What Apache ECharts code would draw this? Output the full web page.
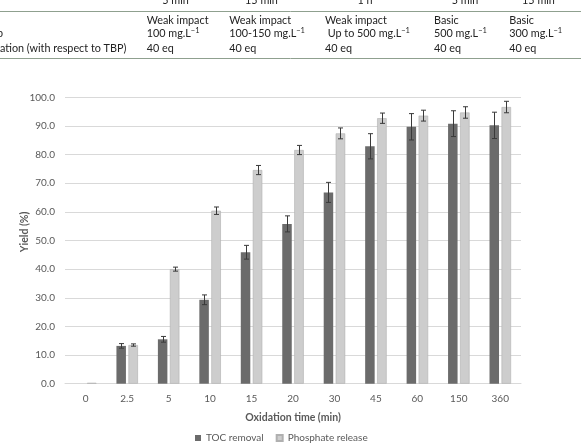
<!DOCTYPE html>
<html><head><meta charset="utf-8">
<script src="https://cdn.jsdelivr.net/npm/echarts@6/dist/echarts.min.js"></script>
<style>html,body{margin:0;padding:0;background:#fff}#c{width:581px;height:446px}</style>
</head><body><div id="c"></div>
<script>
const categories = ['0','2.5','5','10','15','20','30','45','60','150','360'];
const tocRemoval = [0, 13.2, 15.5, 29.3, 45.9, 55.8, 66.8, 82.9, 89.7, 90.8, 90.2];
const tocErr = [0, 0.8, 1.0, 1.7, 2.4, 2.8, 3.5, 4.4, 4.6, 4.5, 4.6];
const phosphateRelease = [0.3, 13.5, 40.0, 60.4, 74.6, 81.6, 87.4, 92.7, 93.6, 94.7, 96.6];
const phosErr = [0, 0.4, 0.7, 1.3, 1.6, 1.6, 1.9, 1.8, 1.9, 2.0, 2.0];
const yTicks = [0,10,20,30,40,50,60,70,80,90,100];
const seriesNames = ['TOC removal', 'Phosphate release'];
const tableTop = ['5 min', '15 min', '1 h', '5 min', '15 min'];
const tableRow1 = ['Weak impact', 'Weak impact', 'Weak impact', 'Basic', 'Basic'];
const tableRow2 = ['100', '100-150', ' Up to 500', '500', '300'];
const tableRow3 = ['40 eq', '40 eq', '40 eq', '40 eq', '40 eq'];
const tableLeft = ['p', 'ation (with respect to TBP)'];

const BW = 9.5, GAP = 2.5;
const font = 'Lato';
const tFont = 'Lato';
const TFS = 10.8;
const chart = echarts.init(document.getElementById('c'));

function errSeries(name, vals, errs, sign) {
  return {
    type: 'custom', name: name + ' err', silent: true, z: 5,
    data: vals.map((v, i) => [i, v, errs[i]]),
    renderItem: function (params, api) {
      const i = api.value(0), v = api.value(1), e = api.value(2);
      if (!e) return null;
      const off = sign * (BW + GAP) / 2;
      const top = api.coord([i, v + e]);
      const bot = api.coord([i, v - e]);
      const x = Math.round(top[0] + off) + 0.5;
      const st = { stroke: '#3a3a3a', lineWidth: 1 };
      return { type: 'group', children: [
        { type: 'line', shape: { x1: x, y1: top[1], x2: x, y2: bot[1] }, style: st },
        { type: 'line', shape: { x1: x - 2.5, y1: top[1], x2: x + 2.5, y2: top[1] }, style: st },
        { type: 'line', shape: { x1: x - 2.5, y1: bot[1], x2: x + 2.5, y2: bot[1] }, style: st }
      ]};
    }
  };
}

const tStyle = { fontFamily: tFont, fontSize: TFS, fill: '#222' };
const colX = [146.7, 229.3, 325, 434, 509.3];
const topX = [175.5, 261.5, 365, 465, 538.5];
const graphics = [
  { type: 'line', shape: { x1: 0, y1: 11.5, x2: 581, y2: 11.5 }, style: { stroke: '#8fa08f', lineWidth: 1 } },
  { type: 'line', shape: { x1: 0, y1: 58.5, x2: 581, y2: 58.5 }, style: { stroke: '#8fa08f', lineWidth: 1 } },
  { type: 'text', x: 25, y: 232, rotation: Math.PI / 2, style: { text: 'Yield (%)', fontFamily: font, fontSize: 10.5, fontWeight: 'bold', fill: '#595959', align: 'center', verticalAlign: 'middle' } }
];
tableTop.forEach((t, i) => graphics.push({ type: 'text', x: topX[i], y: 1, style: Object.assign({ text: t, align: 'center', verticalAlign: 'middle' }, tStyle) }));
tableRow1.forEach((t, i) => graphics.push({ type: 'text', x: colX[i], y: 20.5, style: Object.assign({ text: t, verticalAlign: 'middle' }, tStyle) }));
tableRow2.forEach((t, i) => graphics.push({ type: 'text', x: colX[i], y: 34, style: {
  text: t + ' mg.L{s|\u22121}', verticalAlign: 'middle', fontFamily: tFont, fontSize: TFS, fill: '#222',
  rich: { s: { fontFamily: tFont, fontSize: 7.5, fill: '#222', verticalAlign: 'top', padding: [0, 0, 6, 0] } } } }));
tableRow3.forEach((t, i) => graphics.push({ type: 'text', x: colX[i], y: 48.3, style: Object.assign({ text: t, verticalAlign: 'middle' }, tStyle) }));
graphics.push({ type: 'text', x: -3, y: 34, style: Object.assign({ text: tableLeft[0], verticalAlign: 'middle' }, tStyle) });
graphics.push({ type: 'text', x: 0, y: 48.3, style: Object.assign({ text: tableLeft[1], verticalAlign: 'middle' }, tStyle) });

chart.setOption({
  animation: false,
  textStyle: { fontFamily: font },
  grid: { left: 65, right: 60, top: 97.3, bottom: 62.3, containLabel: false },
  legend: {
    data: seriesNames, top: 428, left: 190, itemWidth: 6, itemHeight: 6, itemGap: 12,
    icon: 'rect', textStyle: { fontFamily: font, fontSize: 10, color: '#595959' }
  },
  xAxis: {
    type: 'category', data: categories,
    name: 'Oxidation time (min)', nameLocation: 'middle', nameGap: 28,
    nameTextStyle: { fontFamily: font, fontSize: 10.5, fontWeight: 'bold', color: '#595959' },
    axisLine: { lineStyle: { color: '#d9d9d9' } }, axisTick: { show: false },
    axisLabel: { color: '#595959', fontSize: 10, margin: 10, fontFamily: font }
  },
  yAxis: {
    type: 'value', min: yTicks[0], max: yTicks[yTicks.length - 1], interval: 10,
    axisLine: { show: false }, axisTick: { show: false },
    splitLine: { lineStyle: { color: '#d9d9d9', width: 1 } },
    axisLabel: { color: '#595959', fontSize: 10, margin: 10, fontFamily: font, formatter: v => v.toFixed(1) }
  },
  series: [
    { name: seriesNames[0], type: 'bar', data: tocRemoval, barWidth: BW, barGap: (GAP / BW * 100) + '%',
      itemStyle: { color: '#6b6b6b' } },
    { name: seriesNames[1], type: 'bar', data: phosphateRelease, barWidth: BW,
      itemStyle: { color: '#cdcdcd', borderColor: '#b0b0b0', borderWidth: 0.6 } },
    errSeries(seriesNames[0], tocRemoval, tocErr, -1),
    errSeries(seriesNames[1], phosphateRelease, phosErr, 1)
  ],
  graphic: graphics
});
</script></body></html>
